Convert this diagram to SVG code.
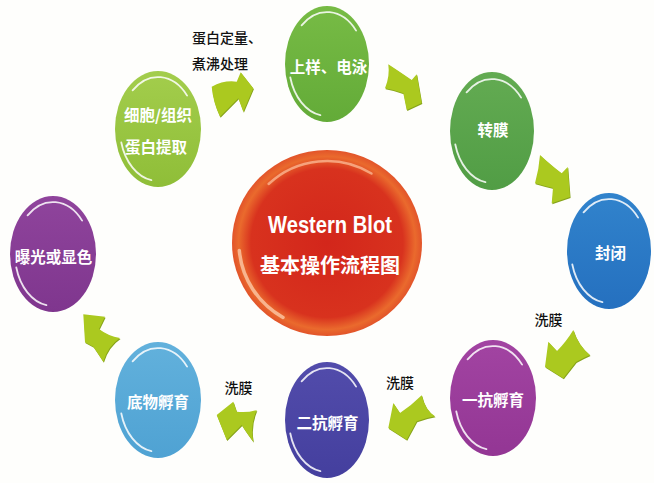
<svg xmlns="http://www.w3.org/2000/svg" xmlns:xlink="http://www.w3.org/1999/xlink" width="654" height="483" viewBox="0 0 654 483">
<style>
.node-text{font-family:"Noto Sans CJK SC","Noto Sans",sans-serif;font-weight:700;font-size:15.5px;fill:#ffffff;text-anchor:middle}
.label{font-family:"Noto Sans CJK SC","Noto Sans",sans-serif;font-weight:500;font-size:14px;fill:#111111}
.hl{fill:none;stroke:#ffffff;stroke-width:1.8;stroke-linecap:round;opacity:0.85}
.arrow{fill:#abc91f}
.arrow-edge{fill:#86a31a}
</style>
<defs>
<linearGradient id="g1" x1="0" y1="0" x2="0" y2="1"><stop offset="0" stop-color="#a3cd4c"/><stop offset="1" stop-color="#8fbe38"/></linearGradient>
<linearGradient id="g2" x1="0" y1="0" x2="0" y2="1"><stop offset="0" stop-color="#77bb45"/><stop offset="1" stop-color="#63ab38"/></linearGradient>
<linearGradient id="g3" x1="0" y1="0" x2="0" y2="1"><stop offset="0" stop-color="#63ab52"/><stop offset="1" stop-color="#519d45"/></linearGradient>
<linearGradient id="g4" x1="0" y1="0" x2="0" y2="1"><stop offset="0" stop-color="#3183cc"/><stop offset="1" stop-color="#2570bf"/></linearGradient>
<linearGradient id="g5" x1="0" y1="0" x2="0" y2="1"><stop offset="0" stop-color="#a244a2"/><stop offset="1" stop-color="#933694"/></linearGradient>
<linearGradient id="g6" x1="0" y1="0" x2="0" y2="1"><stop offset="0" stop-color="#524cab"/><stop offset="1" stop-color="#443f9e"/></linearGradient>
<linearGradient id="g7" x1="0" y1="0" x2="0" y2="1"><stop offset="0" stop-color="#62b1dc"/><stop offset="1" stop-color="#4fa2d3"/></linearGradient>
<linearGradient id="g8" x1="0" y1="0" x2="0" y2="1"><stop offset="0" stop-color="#8f449c"/><stop offset="1" stop-color="#7f368e"/></linearGradient>
<radialGradient id="gc" cx="0.5" cy="0.5" r="0.5"><stop offset="0" stop-color="#d3261b"/><stop offset="0.8" stop-color="#d8321e"/><stop offset="0.93" stop-color="#ea6a2d"/><stop offset="1" stop-color="#e2542a"/></radialGradient>
<path id="hlp" class="hl" d="M-25.4,-38.6 A38,52 0 0 1 29.1,-33.4 M-36.7,13.5 A38,52 0 0 0 -6.6,51.2"/>
</defs>
<rect x="0" y="0" width="654" height="483" fill="#fefefc"/>

<g id="connectors">
  <g id="a1"><path class="arrow-edge" transform="translate(0.6,1)" d="M211.7,86.7 Q224,80 236.7,81.7 L240.7,72.3 L253.3,88.3 L243.3,111.7 L238.3,98.3 L220,116.7 Q213,102 211.7,86.7 Z"/><path class="arrow" d="M211.7,86.7 Q224,80 236.7,81.7 L240.7,72.3 L253.3,88.3 L243.3,111.7 L238.3,98.3 L220,116.7 Q213,102 211.7,86.7 Z"/></g>
  <g id="a2"><path class="arrow-edge" transform="translate(0.6,1)" d="M388.3,64.3 Q400,72 411.7,80 L416.7,74.3 L421.7,103 L406.7,110 L403.3,93.3 Q395,90 385,88.3 Q390,76 388.3,64.3 Z"/><path class="arrow" d="M388.3,64.3 Q400,72 411.7,80 L416.7,74.3 L421.7,103 L406.7,110 L403.3,93.3 Q395,90 385,88.3 Q390,76 388.3,64.3 Z"/></g>
  <g id="a3"><path class="arrow-edge" transform="translate(0.6,1)" d="M540,155 Q552,166 561.7,173.3 L567.7,167 L570,197 L551.7,203.3 L553,188 Q544,186 535,183.3 Q539,169 540,155 Z"/><path class="arrow" d="M540,155 Q552,166 561.7,173.3 L567.7,167 L570,197 L551.7,203.3 L553,188 Q544,186 535,183.3 Q539,169 540,155 Z"/></g>
  <g id="a4"><path class="arrow-edge" transform="translate(0.6,1)" d="M545,366.7 L548.3,341.7 L557,351 Q566,342 573.3,330 Q578,345 590,355 Q583,358 576,362 L563.3,378.3 Z"/><path class="arrow" d="M545,366.7 L548.3,341.7 L557,351 Q566,342 573.3,330 Q578,345 590,355 Q583,358 576,362 L563.3,378.3 Z"/></g>
  <g id="a5"><path class="arrow-edge" transform="translate(0.6,1)" d="M388.3,428 L393.3,403 L400,413 Q412,405 421.7,395.3 Q425,410 435,416.3 Q425,418 416.7,421.3 L406.7,439.7 Z"/><path class="arrow" d="M388.3,428 L393.3,403 L400,413 Q412,405 421.7,395.3 Q425,410 435,416.3 Q425,418 416.7,421.3 L406.7,439.7 Z"/></g>
  <g id="a6"><path class="arrow-edge" transform="translate(0.6,1)" d="M216.7,415 L233.3,401.7 L236.7,411.7 Q247,413 256.7,410 Q250,426 253.3,441.7 Q246,432 241.7,425 L226.7,440 Z"/><path class="arrow" d="M216.7,415 L233.3,401.7 L236.7,411.7 Q247,413 256.7,410 Q250,426 253.3,441.7 Q246,432 241.7,425 L226.7,440 Z"/></g>
  <g id="a7"><path class="arrow-edge" transform="translate(0.6,1)" d="M83.3,314.3 L105,316.7 L99,329 Q108,336 120,338 Q108,346 103.3,361.7 Q97,352 93.3,346.7 L85,342.3 Z"/><path class="arrow" d="M83.3,314.3 L105,316.7 L99,329 Q108,336 120,338 Q108,346 103.3,361.7 Q97,352 93.3,346.7 L85,342.3 Z"/></g>
</g>

<g id="center">
  <ellipse cx="327" cy="243" rx="95" ry="93" fill="url(#gc)"/>
  <path d="M268.6,184 A84,82 0 0 1 371.5,173.5" fill="none" stroke="#f6a27c" stroke-width="2.5" stroke-linecap="round"/>
  <path d="M239.3,250.5 A88,86 0 0 0 283,317.5" fill="none" stroke="#f8b48e" stroke-width="3.5" stroke-linecap="round"/>
  <text x="330" y="233" font-family="'Liberation Sans',Arial,sans-serif" font-weight="700" font-size="23" fill="#ffffff" text-anchor="middle" textLength="124" lengthAdjust="spacingAndGlyphs">Western Blot</text>
  <text x="330" y="272.5" font-family="'Noto Sans CJK SC','Noto Sans',sans-serif" font-weight="700" font-size="20" fill="#ffffff" text-anchor="middle">基本操作流程图</text>
</g>

<g id="n1">
  <ellipse cx="158" cy="129" rx="43" ry="58" fill="url(#g1)"/>
  <use xlink:href="#hlp" x="158" y="129"/>
  <text class="node-text" x="158" y="121">细胞/组织</text>
  <text class="node-text" x="156" y="153">蛋白提取</text>
</g>
<g id="n2">
  <ellipse cx="327" cy="64" rx="42" ry="58" fill="url(#g2)"/>
  <use xlink:href="#hlp" x="327" y="64"/>
  <text class="node-text" x="328.5" y="73">上样、电泳</text>
</g>
<g id="n3">
  <ellipse cx="492" cy="131" rx="42" ry="59" fill="url(#g3)"/>
  <use xlink:href="#hlp" x="492" y="131"/>
  <text class="node-text" x="493" y="136">转膜</text>
</g>
<g id="n4">
  <ellipse cx="609" cy="251" rx="42" ry="58" fill="url(#g4)"/>
  <use xlink:href="#hlp" x="609" y="251"/>
  <text class="node-text" x="610.5" y="259">封闭</text>
</g>
<g id="n5">
  <ellipse cx="493" cy="398" rx="43" ry="58" fill="url(#g5)"/>
  <use xlink:href="#hlp" x="493" y="398"/>
  <text class="node-text" x="493" y="406">一抗孵育</text>
</g>
<g id="n6">
  <ellipse cx="327" cy="420" rx="42" ry="58" fill="url(#g6)"/>
  <use xlink:href="#hlp" x="327" y="420"/>
  <text class="node-text" x="327.5" y="429">二抗孵育</text>
</g>
<g id="n7">
  <ellipse cx="158" cy="400" rx="43" ry="58" fill="url(#g7)"/>
  <use xlink:href="#hlp" x="158" y="400"/>
  <text class="node-text" x="158" y="408">底物孵育</text>
</g>
<g id="n8">
  <ellipse cx="53" cy="254" rx="43" ry="58" fill="url(#g8)"/>
  <use xlink:href="#hlp" x="53" y="254"/>
  <text class="node-text" x="53.5" y="263">曝光或显色</text>
</g>

<g id="labels">
  <text class="label" x="192" y="43">蛋白定量、</text>
  <text class="label" x="192" y="69">煮沸处理</text>
  <text class="label" x="548.5" y="325" text-anchor="middle">洗膜</text>
  <text class="label" x="400" y="388" text-anchor="middle">洗膜</text>
  <text class="label" x="238.5" y="393" text-anchor="middle">洗膜</text>
</g>
</svg>
